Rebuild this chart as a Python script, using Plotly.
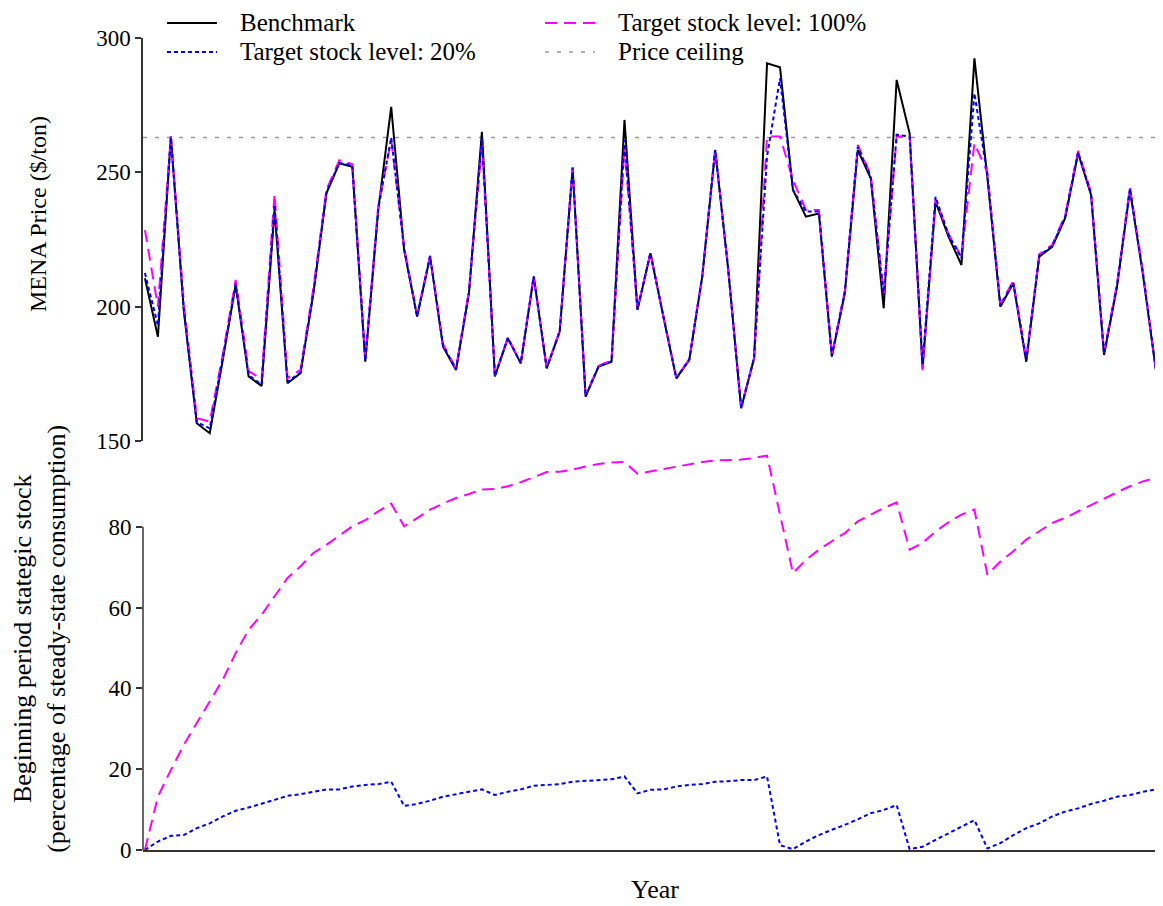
import plotly.graph_objects as go

# ---------------- data ----------------
periods = list(range(1, 81))

price_benchmark = [210.6, 188.8, 263.3, 198.5, 156.6, 152.9, 180.0, 208.1, 174.0, 170.5,
                   236.0, 171.5, 175.2, 205.0, 242.2, 253.4, 252.1, 179.5, 236.0, 274.4,
                   221.1, 196.3, 218.6, 185.1, 176.4, 205.0, 265.1, 174.0, 188.2, 178.9,
                   211.2, 177.0, 190.7, 251.5, 166.5, 177.7, 179.5, 269.5, 198.8, 219.9,
                   196.3, 173.3, 180.2, 211.2, 258.3, 214.0, 162.2, 180.8, 290.6, 289.1,
                   243.4, 233.5, 234.7, 181.4, 205.0, 258.3, 247.8, 199.4, 284.4, 264.5,
                   177.0, 239.1, 226.1, 215.5, 292.4, 248.0, 200.0, 208.7, 179.5, 218.6,
                   222.3, 232.9, 257.1, 241.6, 182.0, 207.4, 243.4, 212.0, 176.4, 228.0]

price_target20 = [212.5, 193.0, 263.0, 199.0, 157.0, 154.7, 181.0, 208.5, 174.5, 171.0,
                  238.0, 172.0, 175.5, 205.5, 242.5, 253.5, 252.5, 180.0, 236.5, 263.0,
                  221.5, 196.5, 218.8, 185.5, 176.7, 205.3, 263.0, 174.2, 188.4, 179.0,
                  211.3, 177.2, 190.8, 251.7, 166.7, 177.8, 179.7, 262.0, 199.0, 220.0,
                  196.4, 173.4, 180.3, 211.3, 258.4, 214.1, 162.3, 180.9, 256.0, 285.0,
                  243.5, 235.4, 235.4, 181.8, 205.5, 259.5, 248.5, 204.0, 264.0, 263.3,
                  178.8, 240.9, 226.8, 218.0, 279.4, 249.0, 200.5, 209.0, 180.0, 219.0,
                  222.6, 233.4, 257.5, 242.0, 182.5, 207.9, 243.9, 212.5, 176.7, 228.5]

price_target100 = [228.5, 200.0, 263.5, 201.0, 158.5, 157.2, 182.0, 210.0, 176.0, 173.0,
                   242.0, 173.4, 176.5, 207.0, 243.5, 254.5, 253.0, 181.0, 237.5, 262.0,
                   222.0, 197.0, 219.0, 186.0, 177.0, 206.0, 260.0, 174.5, 188.5, 179.2,
                   211.5, 177.3, 191.0, 252.0, 167.0, 178.0, 180.0, 259.5, 199.0, 220.0,
                   196.5, 173.5, 180.5, 211.5, 258.6, 214.2, 162.5, 181.0, 263.3, 263.3,
                   247.2, 236.0, 236.0, 182.0, 206.0, 260.2, 249.0, 205.0, 263.3, 263.3,
                   176.4, 240.0, 227.0, 218.6, 260.8, 250.0, 201.0, 209.5, 180.5, 219.5,
                   223.0, 234.0, 258.0, 242.5, 183.0, 208.5, 244.5, 213.0, 177.0, 229.0]

price_ceiling = 263.0

stock_target20 = [0.0, 2.1, 3.5, 3.7, 5.4, 6.6, 8.3, 9.7, 10.5, 11.4,
                  12.4, 13.4, 13.8, 14.4, 15.0, 15.0, 15.7, 16.1, 16.3, 16.9,
                  10.9, 11.4, 12.2, 13.2, 13.8, 14.4, 15.0, 13.6, 14.4, 15.0,
                  15.9, 16.1, 16.3, 16.9, 17.1, 17.3, 17.5, 18.2, 14.0, 14.9,
                  15.0, 15.7, 16.1, 16.3, 16.9, 17.0, 17.3, 17.3, 18.2, 1.2,
                  0.2, 2.1, 3.7, 5.0, 6.2, 7.6, 9.1, 9.9, 11.1, 0.2,
                  0.8, 2.5, 4.1, 5.8, 7.4, 0.4, 1.7, 3.7, 5.4, 6.6,
                  8.3, 9.5, 10.3, 11.4, 12.2, 13.2, 13.6, 14.4, 15.0, 15.3]

stock_target100 = [0.0, 13.2, 19.8, 26.0, 31.4, 36.7, 42.1, 48.7, 54.5, 58.2,
                   62.7, 67.3, 70.2, 73.5, 75.5, 77.8, 80.1, 81.6, 83.8, 85.7,
                   80.1, 82.1, 84.2, 85.7, 87.1, 88.1, 89.2, 89.3, 90.0, 91.0,
                   92.2, 93.5, 93.6, 94.1, 94.9, 95.5, 95.9, 96.0, 93.1, 93.7,
                   94.3, 94.9, 95.4, 96.0, 96.4, 96.5, 96.6, 97.0, 97.6, 83.0,
                   68.5, 71.8, 74.3, 76.4, 78.4, 81.3, 83.0, 84.6, 86.0, 74.3,
                   76.0, 78.8, 81.1, 83.0, 84.2, 68.1, 71.4, 73.9, 76.8, 78.8,
                   80.9, 82.2, 83.8, 85.4, 87.1, 88.5, 90.0, 91.2, 92.1, 92.6]

price_ticks = [150, 200, 250, 300]
stock_ticks = [0, 20, 40, 60, 80]

# ---------------- styles ----------------
FONT = "Liberation Serif"
X_RANGE = [0.85, 79.55]
SPLIT = 0.5037
AXIS = "#333333"

series = {
    "Benchmark": dict(color="black", width=2, dash="solid"),
    "Target stock level: 20%": dict(color="#0000ff", width=2, dash="4px,3px"),
    "Target stock level: 100%": dict(color="#ff00ff", width=2, dash="12px,7px"),
    "Price ceiling": dict(color="#9a9a9a", width=1.5, dash="4px,8px"),
}

fig = go.Figure()

# top panel: prices
fig.add_trace(go.Scatter(x=X_RANGE, y=[price_ceiling, price_ceiling], mode="lines",
                         line=series["Price ceiling"], name="Price ceiling",
                         xaxis="x2", yaxis="y2", showlegend=False))
fig.add_trace(go.Scatter(x=periods, y=price_benchmark, mode="lines",
                         line=series["Benchmark"], name="Benchmark",
                         xaxis="x2", yaxis="y2", showlegend=False))
fig.add_trace(go.Scatter(x=periods, y=price_target100, mode="lines",
                         line=series["Target stock level: 100%"], name="Target stock level: 100%",
                         xaxis="x2", yaxis="y2", showlegend=False))
fig.add_trace(go.Scatter(x=periods, y=price_target20, mode="lines",
                         line=series["Target stock level: 20%"], name="Target stock level: 20%",
                         xaxis="x2", yaxis="y2", showlegend=False))

# bottom panel: stocks
fig.add_trace(go.Scatter(x=periods, y=stock_target100, mode="lines",
                         line=series["Target stock level: 100%"], name="Stock 100%",
                         xaxis="x", yaxis="y", showlegend=False))
fig.add_trace(go.Scatter(x=periods, y=stock_target20, mode="lines",
                         line=series["Target stock level: 20%"], name="Stock 20%",
                         xaxis="x", yaxis="y", showlegend=False))

# legend (two columns, drawn as paper-anchored samples + text)
ROW1, ROW2 = 1.0185, 0.9828
legend_layout = [
    ("Benchmark", 0.0235, ROW1),
    ("Target stock level: 20%", 0.0235, ROW2),
    ("Target stock level: 100%", 0.3941, ROW1),
    ("Price ceiling", 0.3941, ROW2),
]
SAMPLE_W = 0.049
TEXT_GAP = 0.0216
shapes = [dict(type="line", xref="paper", yref="y", x0=0, x1=0,
               y0=stock_ticks[0], y1=stock_ticks[-1],
               line=dict(color=AXIS, width=1.5))]
annotations = []
for name, lx, ly in legend_layout:
    st = series[name]
    shapes.append(dict(type="line", xref="paper", yref="paper",
                       x0=lx, x1=lx + SAMPLE_W, y0=ly, y1=ly,
                       line=dict(color=st["color"], width=st["width"], dash=st["dash"])))
    annotations.append(dict(text=name, xref="paper", yref="paper",
                            x=lx + SAMPLE_W + TEXT_GAP, y=ly, xanchor="left",
                            yanchor="middle", showarrow=False, borderpad=0,
                            font=dict(family=FONT, size=25, color="black")))

annotations += [
    dict(text="MENA Price ($/ton)", xref="paper", yref="paper",
         x=-0.1029, y=0.7833, textangle=-90, showarrow=False,
         xanchor="center", yanchor="middle", font=dict(family=FONT, size=24)),
    dict(text="Beginning period stategic stock<br>(percentage of steady-state consumption)",
         xref="paper", yref="paper", x=-0.1010, y=0.260, textangle=-90,
         showarrow=False, xanchor="center", yanchor="middle",
         font=dict(family=FONT, size=26)),
    dict(text="Year", xref="paper", yref="paper", x=0.502, y=-0.049,
         showarrow=False, xanchor="center", yanchor="middle",
         font=dict(family=FONT, size=26)),
]

tick_font = dict(family=FONT, size=23, color="black")

# the page body adds an 8px offset, so the figure is sized to fit the window
fig.update_layout(
    width=1155, height=898,
    margin=dict(l=135, r=0, t=30, b=56),
    paper_bgcolor="white", plot_bgcolor="white",
    font=dict(family=FONT, size=23, color="black"),
    showlegend=False,
    xaxis=dict(domain=[0, 1], anchor="y", range=X_RANGE, showticklabels=False,
               ticks="", showgrid=False, zeroline=False, showline=True,
               linecolor=AXIS, linewidth=1.5),
    xaxis2=dict(domain=[0, 1], anchor="y2", matches="x", visible=False,
                range=X_RANGE),
    yaxis=dict(domain=[0, SPLIT], anchor="x", range=[0, 101.2], tickvals=stock_ticks,
               ticks="outside", ticklen=6, tickwidth=1.5, tickcolor=AXIS,
               showgrid=False, zeroline=False, showline=False, tickfont=tick_font),
    yaxis2=dict(domain=[SPLIT, 1], anchor="x2", range=[150, 300], tickvals=price_ticks,
                ticks="outside", ticklen=6, tickwidth=1.5, tickcolor=AXIS,
                showgrid=False, zeroline=False, showline=True, linecolor=AXIS,
                linewidth=1.5, tickfont=tick_font),
    shapes=shapes,
    annotations=annotations,
)

fig.write_html("out.html")
